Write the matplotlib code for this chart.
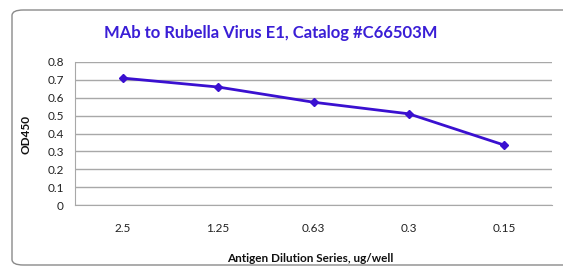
import matplotlib.pyplot as plt
from matplotlib.patches import FancyBboxPatch

plt.rcParams['font.family'] = ['Lato', 'DejaVu Sans']

categorias = ["2.5", "1.25", "0.63", "0.3", "0.15"]
od450 = [0.71, 0.66, 0.575, 0.51, 0.335]
y_ticks = [0, 0.1, 0.2, 0.3, 0.4, 0.5, 0.6, 0.7, 0.8]

cor_linha = "#3a10d0"

fig = plt.figure(figsize=(5.63, 2.73), dpi=100)

# moldura arredondada em volta do gráfico (passa da borda direita)
moldura = FancyBboxPatch((12 / 563, 8 / 273), 1.05, 1 - 18 / 273,
                         boxstyle="round,pad=0,rounding_size=0.02",
                         transform=fig.transFigure, fill=False,
                         edgecolor="#8a8a8a", linewidth=1.0, clip_on=False)
fig.patches.append(moldura)

ax = fig.add_axes([75 / 563, 1 - 205 / 273, 477 / 563, 143 / 273])
x = range(len(categorias))
ax.plot(x, od450, color=cor_linha, linewidth=2, marker="D", markersize=4.5,
        markeredgecolor=cor_linha, markerfacecolor=cor_linha)

ax.set_xlim(-0.5, len(categorias) - 0.5)
ax.set_ylim(0, 0.8)
ax.set_yticks(y_ticks)
ax.set_yticklabels([f"{v:g}" for v in y_ticks])
ax.set_xticks(list(x))
ax.set_xticklabels(categorias)
ax.tick_params(axis="both", length=0, labelsize=8.5, colors="#222222")
ax.tick_params(axis="x", pad=13)
ax.tick_params(axis="y", pad=8)

ax.yaxis.grid(True, color="#a8a8a8", linewidth=1)
ax.set_axisbelow(True)
for lado in ["top", "right"]:
    ax.spines[lado].set_visible(False)
ax.spines["left"].set_color("#a8a8a8")
ax.spines["bottom"].set_color("#a8a8a8")

fig.text(271 / 563, 1 - 33 / 273, "MAb to Rubella Virus E1, Catalog #C66503M",
         ha="center", va="center", fontsize=12, fontweight="bold", color="#3a1ed6")
fig.text(26 / 563, 1 - 135 / 273, "OD450", rotation=90, ha="center", va="center",
         fontsize=8.5, fontweight="bold", color="#111111")
fig.text(310 / 563, 1 - 259 / 273, "Antigen Dilution Series, ug/well",
         ha="center", va="center", fontsize=8.5, fontweight="bold", color="#111111")

fig.savefig("out.png", dpi=100)
